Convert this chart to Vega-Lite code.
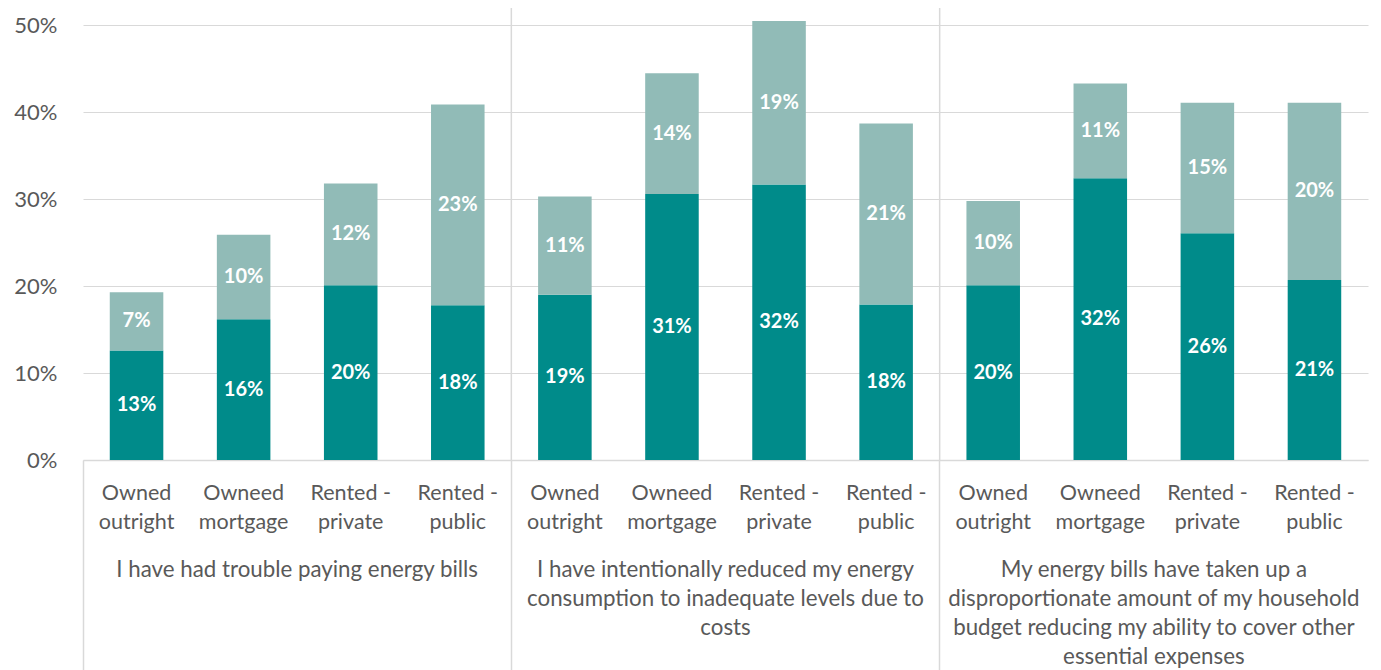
{
  "$schema": "https://vega.github.io/schema/vega-lite/v6.json",
  "width": 1285,
  "height": 452,
  "autosize": {"type": "none"},
  "padding": {"left": 83, "top": 8, "right": 13, "bottom": 210},
  "config": {"view": {"stroke": null}, "font": "Lato"},
  "data": {
    "values": [
      {"group": "I have had trouble paying energy bills", "tenure": "Owned outright", "bar": "1|Owned|outright", "series": "A", "value": 0.126},
      {"group": "I have had trouble paying energy bills", "tenure": "Owned outright", "bar": "1|Owned|outright", "series": "B", "value": 0.067},
      {"group": "I have had trouble paying energy bills", "tenure": "Owneed mortgage", "bar": "1|Owneed|mortgage", "series": "A", "value": 0.162},
      {"group": "I have had trouble paying energy bills", "tenure": "Owneed mortgage", "bar": "1|Owneed|mortgage", "series": "B", "value": 0.097},
      {"group": "I have had trouble paying energy bills", "tenure": "Rented - private", "bar": "1|Rented -|private", "series": "A", "value": 0.201},
      {"group": "I have had trouble paying energy bills", "tenure": "Rented - private", "bar": "1|Rented -|private", "series": "B", "value": 0.117},
      {"group": "I have had trouble paying energy bills", "tenure": "Rented - public", "bar": "1|Rented -|public", "series": "A", "value": 0.178},
      {"group": "I have had trouble paying energy bills", "tenure": "Rented - public", "bar": "1|Rented -|public", "series": "B", "value": 0.231},
      {"group": "I have intentionally reduced my energy consumption to inadequate levels due to costs", "tenure": "Owned outright", "bar": "2|Owned|outright", "series": "A", "value": 0.190},
      {"group": "I have intentionally reduced my energy consumption to inadequate levels due to costs", "tenure": "Owned outright", "bar": "2|Owned|outright", "series": "B", "value": 0.113},
      {"group": "I have intentionally reduced my energy consumption to inadequate levels due to costs", "tenure": "Owneed mortgage", "bar": "2|Owneed|mortgage", "series": "A", "value": 0.306},
      {"group": "I have intentionally reduced my energy consumption to inadequate levels due to costs", "tenure": "Owneed mortgage", "bar": "2|Owneed|mortgage", "series": "B", "value": 0.139},
      {"group": "I have intentionally reduced my energy consumption to inadequate levels due to costs", "tenure": "Rented - private", "bar": "2|Rented -|private", "series": "A", "value": 0.317},
      {"group": "I have intentionally reduced my energy consumption to inadequate levels due to costs", "tenure": "Rented - private", "bar": "2|Rented -|private", "series": "B", "value": 0.188},
      {"group": "I have intentionally reduced my energy consumption to inadequate levels due to costs", "tenure": "Rented - public", "bar": "2|Rented -|public", "series": "A", "value": 0.179},
      {"group": "I have intentionally reduced my energy consumption to inadequate levels due to costs", "tenure": "Rented - public", "bar": "2|Rented -|public", "series": "B", "value": 0.208},
      {"group": "My energy bills have taken up a disproportionate amount of my household budget reducing my ability to cover other essential expenses", "tenure": "Owned outright", "bar": "3|Owned|outright", "series": "A", "value": 0.201},
      {"group": "My energy bills have taken up a disproportionate amount of my household budget reducing my ability to cover other essential expenses", "tenure": "Owned outright", "bar": "3|Owned|outright", "series": "B", "value": 0.097},
      {"group": "My energy bills have taken up a disproportionate amount of my household budget reducing my ability to cover other essential expenses", "tenure": "Owneed mortgage", "bar": "3|Owneed|mortgage", "series": "A", "value": 0.324},
      {"group": "My energy bills have taken up a disproportionate amount of my household budget reducing my ability to cover other essential expenses", "tenure": "Owneed mortgage", "bar": "3|Owneed|mortgage", "series": "B", "value": 0.109},
      {"group": "My energy bills have taken up a disproportionate amount of my household budget reducing my ability to cover other essential expenses", "tenure": "Rented - private", "bar": "3|Rented -|private", "series": "A", "value": 0.261},
      {"group": "My energy bills have taken up a disproportionate amount of my household budget reducing my ability to cover other essential expenses", "tenure": "Rented - private", "bar": "3|Rented -|private", "series": "B", "value": 0.150},
      {"group": "My energy bills have taken up a disproportionate amount of my household budget reducing my ability to cover other essential expenses", "tenure": "Rented - public", "bar": "3|Rented -|public", "series": "A", "value": 0.207},
      {"group": "My energy bills have taken up a disproportionate amount of my household budget reducing my ability to cover other essential expenses", "tenure": "Rented - public", "bar": "3|Rented -|public", "series": "B", "value": 0.204}
    ]
  },
  "layer": [
    {
      "transform": [
        {"stack": "value", "groupby": ["bar"], "sort": [{"field": "series", "order": "ascending"}], "as": ["v0", "v1"]},
        {"calculate": "(datum.v0 + datum.v1) / 2", "as": "vmid"}
      ],
      "layer": [
        {
          "mark": {"type": "bar"},
          "encoding": {
            "x": {
              "field": "bar", "type": "nominal", "sort": null,
              "scale": {"paddingInner": 0.5, "paddingOuter": 0.25},
              "axis": {
                "title": null, "orient": "bottom",
                "labelExpr": "slice(split(datum.value,'|'),1)",
                "labelAngle": 0, "labelFontSize": 21.5, "labelColor": "#595959",
                "labelPadding": 22, "labelLineHeight": 29, "labelBaseline": "top",
                "ticks": false, "domainColor": "#d9d9d9", "domainWidth": 1.5,
                "grid": false, "labelFont": "Lato"
              }
            },
            "y": {
              "field": "v0", "type": "quantitative",
              "scale": {"domain": [0, 0.52], "nice": false},
              "axis": {
                "title": null, "values": [0, 0.1, 0.2, 0.3, 0.4, 0.5], "format": ".0%",
                "grid": true, "gridColor": "#d9d9d9", "gridWidth": 1.2,
                "domain": false, "ticks": false,
                "labelFontSize": 22, "labelColor": "#595959", "labelPadding": 26, "labelFont": "Lato"
              }
            },
            "y2": {"field": "v1"},
            "color": {
              "field": "series", "type": "nominal",
              "scale": {"domain": ["A", "B"], "range": ["#008B8A", "#91BBB7"]},
              "legend": null
            }
          }
        },
        {
          "mark": {"type": "text", "color": "white", "fontWeight": "bold", "fontSize": 20, "font": "Lato", "baseline": "middle"},
          "encoding": {
            "x": {"field": "bar", "type": "nominal", "sort": null},
            "y": {"field": "vmid", "type": "quantitative"},
            "text": {"field": "value", "type": "quantitative", "format": ".0%"}
          }
        }
      ]
    },
    {
      "transform": [
        {"filter": "datum.group != 'I have had trouble paying energy bills'"},
        {"aggregate": [{"op": "count", "as": "n"}], "groupby": ["group"]}
      ],
      "mark": {"type": "rule", "color": "#d9d9d9", "strokeWidth": 1.5},
      "encoding": {
        "x": {
          "field": "group", "type": "nominal", "bandPosition": 0,
          "scale": {
            "domain": [
              "I have had trouble paying energy bills",
              "I have intentionally reduced my energy consumption to inadequate levels due to costs",
              "My energy bills have taken up a disproportionate amount of my household budget reducing my ability to cover other essential expenses"
            ],
            "paddingInner": 0, "paddingOuter": 0
          },
          "axis": {
            "orient": "bottom", "title": null, "domain": false, "grid": false,
            "ticks": true, "tickSize": 210, "tickColor": "#d9d9d9", "tickWidth": 1.5,
            "bandPosition": 0, "tickExtra": false,
            "labelOffset": 0, "labelPadding": -112, "labelAngle": 0,
            "labelAlign": "center", "labelBaseline": "top",
            "labelFontSize": 22.3, "labelColor": "#595959", "labelLineHeight": 29,
            "labelLimit": 1000, "labelFont": "Lato",
            "labelExpr": "datum.value == 'I have intentionally reduced my energy consumption to inadequate levels due to costs' ? ['I have intentionally reduced my energy', 'consumption to inadequate levels due to', 'costs'] : datum.value == 'My energy bills have taken up a disproportionate amount of my household budget reducing my ability to cover other essential expenses' ? ['My energy bills have taken up a', 'disproportionate amount of my household', 'budget reducing my ability to cover other', 'essential expenses'] : datum.value"
          }
        },
        "y": {"datum": 0.52, "type": "quantitative"},
        "y2": {"datum": 0}
      }
    }
  ],
  "resolve": {"scale": {"x": "independent"}, "axis": {"x": "independent"}}
}
